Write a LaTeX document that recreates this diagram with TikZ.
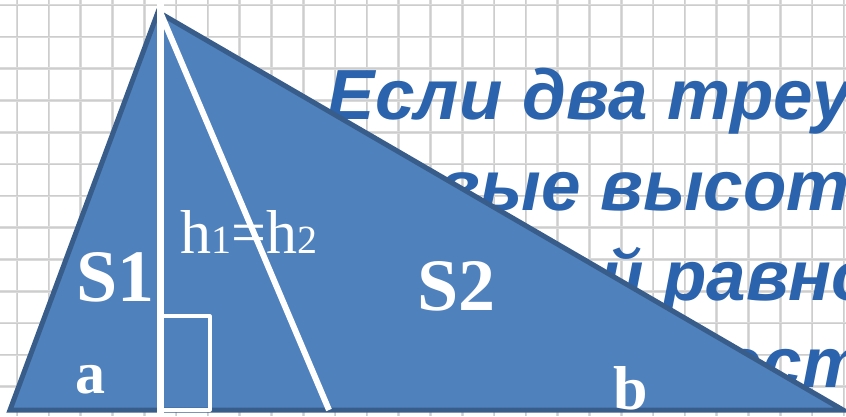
\documentclass[tikz,border=0pt]{standalone}
\usepackage{fontspec}
\setmainfont{Liberation Serif}
\newfontfamily\rufont{Liberation Sans}
\definecolor{gridc}{RGB}{218,218,218}
\definecolor{gridd}{RGB}{205,205,205}
\definecolor{textblue}{RGB}{43,99,172}
\definecolor{trifill}{RGB}{79,129,189}
\definecolor{triline}{RGB}{56,93,138}
\begin{document}
\begin{tikzpicture}[x=1pt,y=-1pt,
  rutext/.style={anchor=base west,inner sep=0,text=textblue,font=\rufont\bfseries\itshape\fontsize{71}{80}\selectfont},
  lbl/.style={anchor=base west,inner sep=0,text=white},
  bigl/.style={lbl,font=\bfseries\fontsize{74}{80}\selectfont},
  gridline/.style={gridc,line width=2.6},
  gridcore/.style={gridd,line width=0.8},
  whiteline/.style={white,line width=6.5}]
\useasboundingbox (0,0) rectangle (846,416);
\clip (0,0) rectangle (846,416);
\fill[white] (0,0) rectangle (846,416);
% grid
\foreach \i in {0,...,26} {
  \draw[gridline] ({17+31.8*\i},0) -- ({17+31.8*\i},416);
  \draw[gridcore] ({17+31.8*\i},0) -- ({17+31.8*\i},416);
}
\foreach \j in {0,...,13} {
  \draw[gridline] (0,{5+31.8*\j}) -- (846,{5+31.8*\j});
  \draw[gridcore] (0,{5+31.8*\j}) -- (846,{5+31.8*\j});
}
% background text
\node[rutext] (t1) at (327,119) {Если два треугольника};
\node[rutext] (t2) at (394,210) {овые высоты,};
\node[rutext] (t3) at (600,300) {й равно};
\node[rutext] (t4) at (722,387) {ест};
% triangle
\coordinate (A) at (158,12);
\coordinate (B) at (10,410);
\coordinate (C) at (843,410);
\draw[triline,fill=trifill,line width=5] (A) -- (B) -- (C) -- cycle;
% altitude and median-like line
\coordinate (Htop) at (160.5,0);
\coordinate (Hbot) at (160.5,416);
\coordinate (Apex) at (161,14);
\coordinate (D) at (329,410);
\draw[whiteline] (Htop) -- (Hbot);
\draw[white,line width=6] (Apex) -- (D);
% right-angle mark
\coordinate (Q1) at (162,316);
\coordinate (Q2) at (210,410);
\draw[white,line width=3.2,line join=round] (Q1) rectangle (Q2);
% labels
\node[bigl] (s1) at (76,301) {S1};
\node[bigl] (s2) at (417,310) {S2};
\node[lbl,font=\fontsize{62}{70}\selectfont] (h) at (180,253) {h{\fontsize{40}{40}\selectfont 1}=h{\fontsize{40}{40}\selectfont 2}};
\node[lbl,font=\bfseries\fontsize{60}{60}\selectfont] (la) at (75,393) {a};
\node[lbl,font=\bfseries\fontsize{62}{62}\selectfont] (lb) at (613,409) {b};
\end{tikzpicture}
\end{document}
